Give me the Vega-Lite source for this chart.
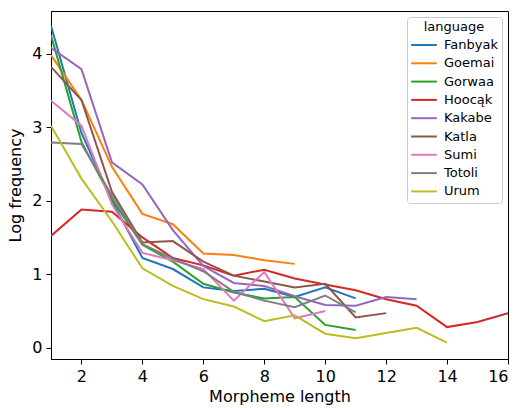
{
  "$schema": "https://vega.github.io/schema/vega-lite/v6.json",
  "autosize": "none",
  "width": 457,
  "height": 348,
  "padding": {"left": 51, "top": 11, "right": 12, "bottom": 49},
  "background": "white",
  "config": {
    "font": "DejaVu Sans",
    "view": {"stroke": "black", "strokeWidth": 1},
    "axis": {"grid": false, "domainColor": "black", "tickColor": "black", "labelColor": "black", "titleColor": "black", "labelFontSize": 16, "titleFontSize": 16, "titleFontWeight": "normal", "tickSize": 5, "labelPadding": 4}
  },
  "data": {"values": [
    {"language": "Fanbyak", "len": 1, "v": 4.38}, {"language": "Fanbyak", "len": 2, "v": 2.92}, {"language": "Fanbyak", "len": 3, "v": 2.0}, {"language": "Fanbyak", "len": 4, "v": 1.22}, {"language": "Fanbyak", "len": 5, "v": 1.07}, {"language": "Fanbyak", "len": 6, "v": 0.82}, {"language": "Fanbyak", "len": 7, "v": 0.77}, {"language": "Fanbyak", "len": 8, "v": 0.8}, {"language": "Fanbyak", "len": 9, "v": 0.69}, {"language": "Fanbyak", "len": 10, "v": 0.82}, {"language": "Fanbyak", "len": 11, "v": 0.67},
    {"language": "Goemai", "len": 1, "v": 3.98}, {"language": "Goemai", "len": 2, "v": 3.37}, {"language": "Goemai", "len": 3, "v": 2.46}, {"language": "Goemai", "len": 4, "v": 1.82}, {"language": "Goemai", "len": 5, "v": 1.68}, {"language": "Goemai", "len": 6, "v": 1.28}, {"language": "Goemai", "len": 7, "v": 1.26}, {"language": "Goemai", "len": 8, "v": 1.19}, {"language": "Goemai", "len": 9, "v": 1.14},
    {"language": "Gorwaa", "len": 1, "v": 4.25}, {"language": "Gorwaa", "len": 2, "v": 2.8}, {"language": "Gorwaa", "len": 3, "v": 2.02}, {"language": "Gorwaa", "len": 4, "v": 1.4}, {"language": "Gorwaa", "len": 5, "v": 1.17}, {"language": "Gorwaa", "len": 6, "v": 0.87}, {"language": "Gorwaa", "len": 7, "v": 0.75}, {"language": "Gorwaa", "len": 8, "v": 0.67}, {"language": "Gorwaa", "len": 9, "v": 0.69}, {"language": "Gorwaa", "len": 10, "v": 0.31}, {"language": "Gorwaa", "len": 11, "v": 0.24},
    {"language": "Hoocąk", "len": 1, "v": 1.52}, {"language": "Hoocąk", "len": 2, "v": 1.88}, {"language": "Hoocąk", "len": 3, "v": 1.85}, {"language": "Hoocąk", "len": 4, "v": 1.5}, {"language": "Hoocąk", "len": 5, "v": 1.22}, {"language": "Hoocąk", "len": 6, "v": 1.12}, {"language": "Hoocąk", "len": 7, "v": 0.98}, {"language": "Hoocąk", "len": 8, "v": 1.06}, {"language": "Hoocąk", "len": 9, "v": 0.94}, {"language": "Hoocąk", "len": 10, "v": 0.86}, {"language": "Hoocąk", "len": 11, "v": 0.78}, {"language": "Hoocąk", "len": 12, "v": 0.66}, {"language": "Hoocąk", "len": 13, "v": 0.57}, {"language": "Hoocąk", "len": 14, "v": 0.28}, {"language": "Hoocąk", "len": 15, "v": 0.35}, {"language": "Hoocąk", "len": 16, "v": 0.47},
    {"language": "Kakabe", "len": 1, "v": 4.08}, {"language": "Kakabe", "len": 2, "v": 3.79}, {"language": "Kakabe", "len": 3, "v": 2.52}, {"language": "Kakabe", "len": 4, "v": 2.22}, {"language": "Kakabe", "len": 5, "v": 1.6}, {"language": "Kakabe", "len": 6, "v": 1.11}, {"language": "Kakabe", "len": 7, "v": 0.88}, {"language": "Kakabe", "len": 8, "v": 0.84}, {"language": "Kakabe", "len": 9, "v": 0.7}, {"language": "Kakabe", "len": 10, "v": 0.58}, {"language": "Kakabe", "len": 11, "v": 0.57}, {"language": "Kakabe", "len": 12, "v": 0.69}, {"language": "Kakabe", "len": 13, "v": 0.66},
    {"language": "Katla", "len": 1, "v": 3.82}, {"language": "Katla", "len": 2, "v": 3.37}, {"language": "Katla", "len": 3, "v": 2.12}, {"language": "Katla", "len": 4, "v": 1.43}, {"language": "Katla", "len": 5, "v": 1.45}, {"language": "Katla", "len": 6, "v": 1.17}, {"language": "Katla", "len": 7, "v": 0.98}, {"language": "Katla", "len": 8, "v": 0.9}, {"language": "Katla", "len": 9, "v": 0.82}, {"language": "Katla", "len": 10, "v": 0.87}, {"language": "Katla", "len": 11, "v": 0.41}, {"language": "Katla", "len": 12, "v": 0.47},
    {"language": "Sumi", "len": 1, "v": 3.36}, {"language": "Sumi", "len": 2, "v": 3.02}, {"language": "Sumi", "len": 3, "v": 1.95}, {"language": "Sumi", "len": 4, "v": 1.29}, {"language": "Sumi", "len": 5, "v": 1.19}, {"language": "Sumi", "len": 6, "v": 1.07}, {"language": "Sumi", "len": 7, "v": 0.64}, {"language": "Sumi", "len": 8, "v": 1.03}, {"language": "Sumi", "len": 9, "v": 0.4}, {"language": "Sumi", "len": 10, "v": 0.5},
    {"language": "Totoli", "len": 1, "v": 2.79}, {"language": "Totoli", "len": 2, "v": 2.77}, {"language": "Totoli", "len": 3, "v": 2.07}, {"language": "Totoli", "len": 4, "v": 1.41}, {"language": "Totoli", "len": 5, "v": 1.21}, {"language": "Totoli", "len": 6, "v": 1.04}, {"language": "Totoli", "len": 7, "v": 0.76}, {"language": "Totoli", "len": 8, "v": 0.64}, {"language": "Totoli", "len": 9, "v": 0.55}, {"language": "Totoli", "len": 10, "v": 0.71}, {"language": "Totoli", "len": 11, "v": 0.48},
    {"language": "Urum", "len": 1, "v": 3.02}, {"language": "Urum", "len": 2, "v": 2.3}, {"language": "Urum", "len": 3, "v": 1.72}, {"language": "Urum", "len": 4, "v": 1.08}, {"language": "Urum", "len": 5, "v": 0.84}, {"language": "Urum", "len": 6, "v": 0.66}, {"language": "Urum", "len": 7, "v": 0.56}, {"language": "Urum", "len": 8, "v": 0.36}, {"language": "Urum", "len": 9, "v": 0.44}, {"language": "Urum", "len": 10, "v": 0.19}, {"language": "Urum", "len": 11, "v": 0.13}, {"language": "Urum", "len": 12, "v": 0.2}, {"language": "Urum", "len": 13, "v": 0.27}, {"language": "Urum", "len": 14, "v": 0.07}
  ]},
  "mark": {"type": "line", "strokeWidth": 2, "clip": true},
  "encoding": {
    "x": {"field": "len", "type": "quantitative", "title": "Morpheme length", "scale": {"domain": [1, 16], "nice": false, "zero": false}, "axis": {"values": [2, 4, 6, 8, 10, 12, 14, 16], "titlePadding": 4}},
    "y": {"field": "v", "type": "quantitative", "title": "Log frequency", "scale": {"domain": [-0.154, 4.58], "nice": false, "zero": false}, "axis": {"values": [0, 1, 2, 3, 4], "titlePadding": 8}},
    "color": {"field": "language", "type": "nominal", "title": "language",
      "scale": {"domain": ["Fanbyak", "Goemai", "Gorwaa", "Hoocąk", "Kakabe", "Katla", "Sumi", "Totoli", "Urum"], "range": ["#1f77b4", "#ff7f0e", "#2ca02c", "#d62728", "#9467bd", "#8c564b", "#e377c2", "#7f7f7f", "#bcbd22"]},
      "legend": {"orient": "top-right", "offset": 6, "symbolType": "M-1.6,0H1.6", "symbolSize": 256, "symbolStrokeWidth": 2, "symbolOffset": 4, "labelFontSize": 13, "titleFontSize": 13, "titleFontWeight": "normal", "titleAnchor": "middle", "labelColor": "black", "titleColor": "black", "rowPadding": 2.3, "padding": 4, "titlePadding": 2, "strokeColor": "#cccccc", "fillColor": "white", "cornerRadius": 3, "labelOffset": 11}}
  }
}
